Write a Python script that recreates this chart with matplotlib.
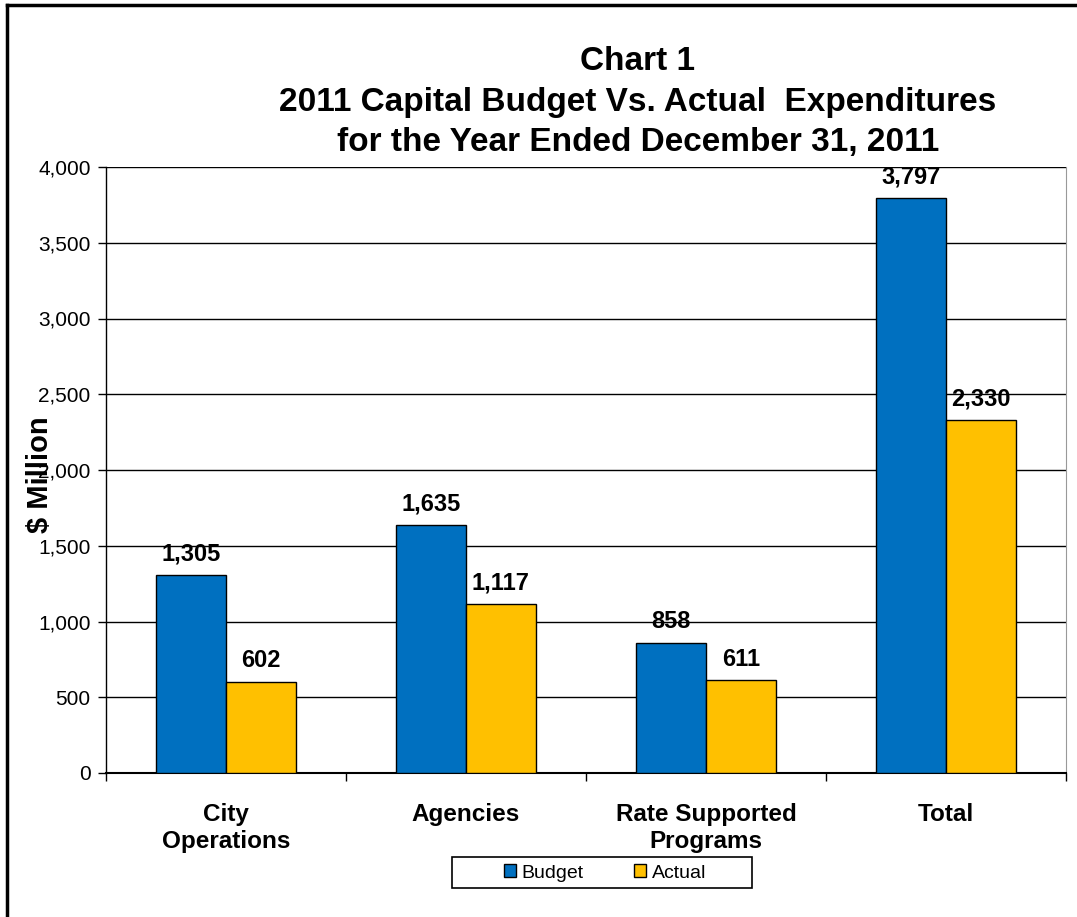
import matplotlib.pyplot as plt
import numpy as np
from matplotlib.lines import Line2D
from matplotlib.patches import Patch, Rectangle

# данные графика
categories = ["City\nOperations", "Agencies", "Rate Supported\nPrograms", "Total"]
budget = [1305, 1635, 858, 3797]
actual = [602, 1117, 611, 2330]
y_ticks = [0, 500, 1000, 1500, 2000, 2500, 3000, 3500, 4000]

plt.rcParams['font.family'] = ['Liberation Sans', 'DejaVu Sans']

fig = plt.figure(figsize=(10.77, 9.17), dpi=100)
W, H = 1077, 917
ax = fig.add_axes([106 / W, 1 - 773 / H, (1066 - 106) / W, (773 - 167) / H])

x = np.arange(len(categories))
w = 0.29
b1 = ax.bar(x - w / 2, budget, w, color='#0070C0', edgecolor='black', linewidth=1, zorder=3)
b2 = ax.bar(x + w / 2, actual, w, color='#FFC000', edgecolor='black', linewidth=1, zorder=3)

for bars, vals in ((b1, budget), (b2, actual)):
    for r, v in zip(bars, vals):
        ax.annotate(f"{v:,}", (r.get_x() + r.get_width() / 2, v), xytext=(0, 7),
                    textcoords='offset points', ha='center', va='bottom',
                    fontsize=17, fontweight='bold', zorder=4)

ax.set_xlim(-0.5, len(categories) - 0.5)
ax.set_ylim(0, 4000)
ax.set_yticks(y_ticks)
ax.set_yticklabels([f"{t:,}" for t in y_ticks], fontsize=15)
ax.yaxis.grid(True, color='black', linewidth=1, zorder=0)

ax.set_xticks(np.arange(len(categories) + 1) - 0.5)
ax.set_xticklabels([])
ax.tick_params(axis='x', length=6, width=1)
ax.tick_params(axis='y', length=6, width=1, pad=5)
for i, c in enumerate(categories):
    ax.text(i, -0.05, c, transform=ax.get_xaxis_transform(), ha='center', va='top',
            fontsize=17.5, fontweight='bold', linespacing=1.2)

ax.spines['top'].set_visible(False)
ax.spines['right'].set_color('#999999')
ax.spines['left'].set_linewidth(1)
ax.spines['bottom'].set_linewidth(1.5)

fig.text(40 / W, 1 - 475 / H, "$ Million", rotation=90, ha='center', va='center',
         fontsize=21, fontweight='bold')

title_x = 638 / W
fig.text(title_x, 1 - 61 / H, "Chart 1", ha='center', va='center', fontsize=24, fontweight='bold')
fig.text(title_x, 1 - 103 / H, "2011 Capital Budget Vs. Actual  Expenditures", ha='center', va='center',
         fontsize=24, fontweight='bold')
fig.text(title_x, 1 - 142 / H, "for the Year Ended December 31, 2011", ha='center', va='center',
         fontsize=24, fontweight='bold')

handles = [Patch(facecolor='#0070C0', edgecolor='black'), Patch(facecolor='#FFC000', edgecolor='black')]
leg = fig.legend(handles, ["Budget", "Actual"], loc='center',
                 bbox_to_anchor=(605 / W, 1 - 873 / H),
                 ncol=2, fontsize=14, frameon=False,
                 handlelength=0.6, handleheight=0.6, handletextpad=0.3,
                 columnspacing=2.6, borderpad=0, borderaxespad=0)
# рамка легенды
fig.add_artist(Rectangle((452 / W, 1 - 888 / H), 300 / W, 31 / H, transform=fig.transFigure,
                         facecolor='none', edgecolor='black', linewidth=1.2))

# рамка вокруг
fig.add_artist(Line2D([7 / W, 7 / W], [0, 1 - 5 / H], color='black', linewidth=2.5))
fig.add_artist(Line2D([7 / W, 1], [1 - 5 / H, 1 - 5 / H], color='black', linewidth=2.5))

fig.savefig("out.png", dpi=100)
